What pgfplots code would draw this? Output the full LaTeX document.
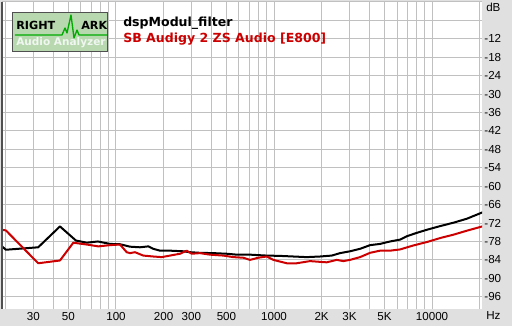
\documentclass[border=0pt]{standalone}
\usepackage{fontspec}
\setmainfont{Liberation Sans}
\newfontfamily\dv{DejaVu Sans}
\usepackage{pgfplots}
\pgfplotsset{compat=1.18}
\definecolor{bg}{RGB}{224,224,224}
\definecolor{gridc}{RGB}{192,192,192}
\definecolor{rmred}{RGB}{204,0,0}
\definecolor{logog}{RGB}{184,216,176}
\definecolor{logoline}{RGB}{0,170,0}
\definecolor{frame}{RGB}{80,80,80}
\definecolor{logotxt}{RGB}{240,246,240}
\begin{document}
\begin{tikzpicture}
\begin{scope}[x=0.75pt,y=-0.75pt,shift={(-1.5pt,231.75pt)}]
\fill[bg] (0,0) rectangle (512,326);
\end{scope}
\begin{axis}[at={(0,0)}, anchor=south west, scale only axis,
  width=360pt, height=230.25pt,
  xmode=log, xmin=19, xmax=20700, ymin=-100, ymax=0,
  axis background/.style={fill=white},
  axis line style={draw=none},
  xtick={30,50,100,200,300,500,1000,2000,3000,5000,10000},
  xticklabels={30,50,100,200,300,500,1000,2K,3K,5K,10000},
  minor xtick={20,40,60,70,80,90,400,600,700,800,900,4000,6000,7000,8000,9000,20000},
  ytick={-96,-90,...,-6},
  yticklabels={-96,-90,-84,-78,-72,-66,-60,-54,-48,-42,-36,-30,-24,-18,-12,{}},
  yticklabel pos=right,
  xmajorgrids, xminorgrids, ymajorgrids,
  major grid style={gridc, line width=0.75pt},
  minor grid style={gridc, line width=0.75pt},
  major tick length=0pt, minor tick length=0pt,
  tick style={draw=none},
  tick label style={font=\fontsize{8.7}{10}\selectfont, inner sep=0pt},
  x tick label style={anchor=north, yshift=-2.4pt},
  y tick label style={anchor=west, xshift=1.6pt},
]
\addplot[black, line width=1.5pt, line join=round] coordinates {
(19.0,-79.6) (20.1,-80.7) (32.2,-79.9) (44.2,-73.1) (55.8,-77.7) (65.3,-78.4)
(76.9,-78.0) (91.6,-78.8) (106.0,-78.9) (122.7,-79.7) (141.9,-79.9) (160.1,-79.6)
(172.2,-80.4) (189.9,-81.0) (219.7,-81.0) (266.7,-81.2) (294.0,-81.5) (340.1,-81.7)
(412.8,-81.8) (501.9,-82.0) (580.6,-82.3) (705,-82.3) (899,-82.6) (1091,-82.7)
(1325,-82.9) (1611,-83.1) (1955,-82.9) (2319,-82.6) (2617,-81.8) (3027,-81.2)
(3502,-80.4) (4051,-79.2) (4687,-78.8) (5423,-78.0) (6274,-77.4) (6919,-76.3)
(8000,-75.2) (9259,-74.2) (11235,-73.0) (13640,-71.9) (16584,-70.6) (21125,-68.4)
};
\addplot[rmred, line width=1.5pt, line join=round] coordinates {
(19.0,-74.2) (20.1,-74.4) (32.2,-85.1) (44.2,-84.2) (53.7,-78.4) (65.3,-79.0)
(77.3,-79.6) (91.6,-79.2) (106,-79.0) (116.9,-81.5) (122.7,-81.8) (131.9,-81.5)
(148.9,-82.6) (172.2,-82.9) (194.7,-83.1) (219.7,-82.6) (254.2,-82.0) (280.2,-81.0)
(301.4,-82.0) (340.1,-81.8) (393.4,-82.3) (477.6,-82.6) (552.6,-83.1) (639.3,-83.3)
(705,-84.0) (795.6,-83.3) (899,-82.9) (990,-84.0) (1203,-85.1) (1392,-85.1)
(1690,-84.4) (2155,-84.8) (2494,-84.0) (2745,-84.4) (3027,-84.0) (3502,-83.1)
(4051,-81.7) (4687,-81.0) (5423,-81.0) (6274,-80.6) (7615,-79.3) (9259,-78.2)
(11235,-76.9) (13640,-75.8) (16584,-74.5) (21125,-73.0)
};
\end{axis}
\begin{scope}[x=0.75pt,y=-0.75pt,shift={(-1.5pt,231.75pt)}]
\draw[frame, line width=1.2pt] (2,2) -- (2,309);
\draw[gridc, line width=0.75pt] (2,2) -- (482,2);
% logo
\fill[logog] (13,13) rectangle (108,52);
\draw[frame, line width=0.75pt] (13,13) rectangle (108,52);
\draw[logoline, line width=1pt, line join=round] (15,35) -- (62,35) -- (65,28) -- (67,33) -- (71,15) -- (74,38) -- (77,30) -- (79,35) -- (107,35);
\node[anchor=base west, inner sep=0pt] at (16,30) {\dv\bfseries\fontsize{8.4}{10}\selectfont RIGHT};
\node[anchor=base west, inner sep=0pt] at (81,30) {\dv\bfseries\fontsize{8.4}{10}\selectfont ARK};
\node[anchor=base west, inner sep=0pt, text=logotxt] at (16,46) {\dv\bfseries\fontsize{7.9}{10}\selectfont Audio Analyzer};
% titles
\node[anchor=base west, inner sep=0pt] at (123,27) {\dv\bfseries\fontsize{9.4}{11}\selectfont dspModul\_filter};
\node[anchor=base west, inner sep=0pt, text=rmred] at (123,42.5) {\dv\bfseries\fontsize{9.4}{11}\selectfont SB Audigy 2 ZS Audio [E800]};
\node[anchor=base west, inner sep=0pt] at (486,11.5) {\fontsize{8.7}{10}\selectfont dB};
\node[anchor=base west, inner sep=0pt] at (486,320) {\fontsize{8.7}{10}\selectfont Hz};
\pgfresetboundingbox
\path[use as bounding box] (0,0) rectangle (512,326);
\end{scope}
\end{tikzpicture}
\end{document}
